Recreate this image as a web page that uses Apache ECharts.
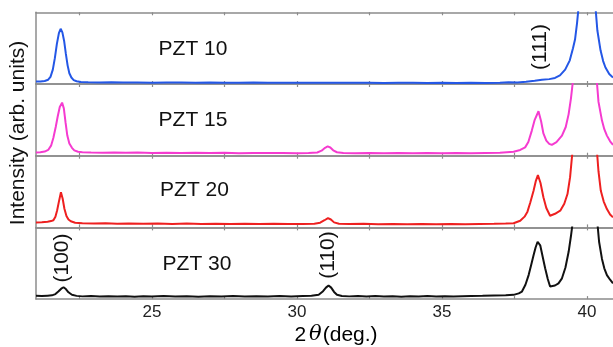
<!DOCTYPE html>
<html>
<head>
<meta charset="utf-8">
<script src="https://cdn.jsdelivr.net/npm/echarts@6/dist/echarts.min.js"></script>
<style>
  html, body { margin: 0; padding: 0; background: #fff; }
  #chart { width: 613px; height: 347px; }
</style>
</head>
<body>
<div id="chart"></div>
<script>
// [2theta, intensity in % of panel height]
const pzt10 = [[21.0,3.4],[21.15,3.6],[21.3,4.2],[21.42,6],[21.5,10],[21.58,20],[21.65,36],[21.72,56],[21.79,71],[21.85,77],[21.91,72],[21.97,60],[22.03,42],[22.09,26],[22.15,15],[22.22,9],[22.3,5.5],[22.4,3.8],[22.55,2.8],[22.8,2.3],[23.2,2.1],[23.6,2.4],[24.0,2.0],[24.5,2.2],[25.0,1.9],[25.5,2.2],[26.0,2.0],[26.5,1.8],[27.0,2.1],[27.5,1.9],[28.0,1.8],[28.5,2.0],[29.0,1.7],[29.5,1.9],[30.0,1.8],[30.5,1.6],[31.0,1.9],[31.5,1.7],[32.0,1.6],[32.5,1.8],[33.0,1.5],[33.5,1.7],[34.0,1.6],[34.5,1.5],[35.0,1.7],[35.5,1.5],[36.0,1.6],[36.5,1.4],[37.0,1.7],[37.3,2.3],[37.6,2.2],[37.9,3.0],[38.2,4.5],[38.45,6],[38.7,6.8],[38.9,8.5],[39.07,12],[39.25,20],[39.41,33],[39.52,50],[39.59,62],[39.66,85],[39.72,110],[39.85,200],[40.0,300],[40.15,200],[40.28,115],[40.36,75],[40.47,47],[40.56,32],[40.64,23],[40.77,14],[40.9,9]];
const pzt15 = [[21.0,4.6],[21.15,4.8],[21.3,5.8],[21.42,8],[21.52,14],[21.6,25],[21.68,40],[21.75,55],[21.82,68],[21.9,74],[21.96,66],[22.02,46],[22.08,28],[22.15,17],[22.24,11],[22.32,7.5],[22.45,5.5],[22.6,4.8],[22.9,4.5],[23.3,4.2],[23.7,4.6],[24.1,4.0],[24.5,4.4],[25.0,3.8],[25.5,4.2],[26.0,3.7],[26.5,4.1],[27.0,3.6],[27.5,4.0],[28.0,3.5],[28.5,3.9],[29.0,3.6],[29.5,3.8],[30.0,3.4],[30.4,3.9],[30.7,4.5],[30.85,7],[30.97,11],[31.06,13],[31.15,11.5],[31.25,7.5],[31.38,4.8],[31.6,3.8],[32.0,3.5],[32.5,3.9],[33.0,3.4],[33.5,3.7],[34.0,3.3],[34.5,3.6],[35.0,3.4],[35.5,3.7],[36.0,3.5],[36.5,3.9],[37.0,4.2],[37.47,5.6],[37.7,8],[37.87,11.6],[37.98,19],[38.1,35],[38.2,50],[38.33,62],[38.42,48],[38.5,31],[38.6,21],[38.7,16.5],[38.79,15],[38.95,19],[39.14,28],[39.27,40],[39.37,58],[39.45,80],[39.52,105],[39.7,200],[39.95,300],[40.2,200],[40.32,115],[40.4,75],[40.52,49],[40.6,37],[40.69,28],[40.8,20],[40.9,15]];
const pzt20 = [[21.0,7],[21.2,7.2],[21.4,7.8],[21.52,8.8],[21.6,10],[21.67,15],[21.73,24],[21.79,36],[21.86,49],[21.92,40],[21.98,26],[22.05,16],[22.12,11],[22.2,8.5],[22.35,6.5],[22.6,5.8],[23.0,5.4],[23.4,5.9],[23.8,5.2],[24.2,5.6],[24.7,5.0],[25.2,5.5],[25.7,4.9],[26.2,5.3],[26.7,4.8],[27.2,5.2],[27.7,4.7],[28.2,5.1],[28.7,4.6],[29.2,5.0],[29.7,4.6],[30.2,4.9],[30.6,5.0],[30.8,6.5],[30.95,10],[31.07,13],[31.17,11],[31.28,7],[31.45,5],[31.8,4.7],[32.3,5.0],[32.8,4.5],[33.3,4.8],[33.8,4.4],[34.3,4.7],[34.8,4.3],[35.3,4.6],[35.8,4.5],[36.3,4.9],[36.8,5.0],[37.2,5.3],[37.47,5.8],[37.7,9.3],[37.85,15],[37.95,22],[38.05,35],[38.16,51],[38.24,65],[38.31,73],[38.4,62],[38.5,42],[38.6,27],[38.73,16.3],[38.9,19],[39.08,23.3],[39.22,33],[39.33,46.5],[39.42,70],[39.5,105],[39.7,200],[39.95,300],[40.2,200],[40.32,120],[40.4,78],[40.48,51],[40.58,36],[40.69,25.6],[40.8,18],[40.9,14]];
const pzt30 = [[21.0,4.6],[21.2,4.2],[21.4,4.8],[21.55,5.2],[21.67,7],[21.77,10.5],[21.87,14.5],[21.95,16.5],[22.03,14],[22.12,9.5],[22.24,6],[22.4,4.5],[22.6,3.8],[22.9,4.2],[23.2,3.6],[23.5,4.1],[23.8,3.5],[24.1,4.0],[24.4,3.4],[24.7,3.9],[25.0,3.6],[25.4,4.2],[25.8,3.5],[26.2,4.0],[26.6,3.4],[27.0,4.1],[27.4,3.6],[27.8,4.3],[28.2,3.5],[28.6,4.0],[29.0,3.6],[29.4,4.2],[29.8,3.7],[30.2,4.3],[30.5,4.6],[30.75,6],[30.9,11],[31.0,16],[31.09,19],[31.18,16],[31.28,10],[31.38,6],[31.55,4.4],[31.8,3.8],[32.1,4.3],[32.4,3.6],[32.7,4.2],[33.0,3.5],[33.3,4.0],[33.6,3.4],[33.9,4.1],[34.2,3.6],[34.5,4.2],[34.8,3.7],[35.1,4.1],[35.4,3.6],[35.7,4.0],[36.0,4.3],[36.4,4.6],[36.8,5.0],[37.2,5.4],[37.47,5.9],[37.65,8],[37.76,10.5],[37.88,20],[37.99,33.5],[38.08,48],[38.16,61],[38.23,72],[38.3,80],[38.39,75],[38.48,58],[38.56,43],[38.65,28],[38.73,17.6],[38.9,19],[39.02,22],[39.14,29],[39.26,44],[39.37,66],[39.45,88],[39.52,110],[39.7,200],[39.95,300],[40.2,200],[40.32,125],[40.42,80],[40.52,56],[40.6,43],[40.69,33.5],[40.8,27],[40.9,22]];

const panelNames = ['PZT 10', 'PZT 15', 'PZT 20', 'PZT 30'];
const panelColors = ['#2457e6', '#f53bd0', '#ee2020', '#111111'];
const tickValues = [22.5, 25, 27.5, 30, 32.5, 35, 37.5, 40];
const labelValues = [25, 30, 35, 40];
const peakLabels = ['(111)', '(100)', '(110)'];

const allData = [pzt10, pzt15, pzt20, pzt30];
const FONT = '"Liberation Sans", Arial, sans-serif';
const AXIS = '#8c8c8c';
const tops = [12.3, 84, 155.7, 227.4];
const H = 71.7;

const grids = [], xAxes = [], yAxes = [], series = [];
tops.forEach((t, i) => {
  grids.push({ left: 36, right: 0, top: t, height: H });
  const last = i === 3;
  // bottom axis
  xAxes.push({
    type: 'value', gridIndex: i, min: 21, max: 40.9, position: 'bottom',
    axisLine: { show: true, lineStyle: { color: AXIS, width: 1.5 } },
    axisTick: { show: true, inside: true, length: 3, customValues: tickValues, lineStyle: { color: AXIS, width: 1.2 } },
    axisLabel: { show: last, customValues: labelValues, margin: 5, fontSize: 17, color: '#222', fontFamily: FONT },
    splitLine: { show: false }
  });
  // top axis
  xAxes.push({
    type: 'value', gridIndex: i, min: 21, max: 40.9, position: 'top',
    axisLine: { show: true, lineStyle: { color: AXIS, width: 1.5 } },
    axisTick: { show: true, inside: true, length: 3, customValues: tickValues, lineStyle: { color: AXIS, width: 1.2 } },
    axisLabel: { show: false },
    splitLine: { show: false }
  });
  yAxes.push({
    type: 'value', gridIndex: i, min: 0, max: 100,
    axisLine: { show: true, lineStyle: { color: AXIS, width: 1.5 } },
    axisTick: { show: false }, axisLabel: { show: false }, splitLine: { show: false }
  });
  series.push({
    type: 'line', xAxisIndex: i * 2, yAxisIndex: i, data: allData[i],
    showSymbol: false, clip: true, silent: true,
    lineStyle: { color: panelColors[i], width: 2 }
  });
});

const textStyle = (size) => ({ font: size + 'px ' + FONT, fill: '#111', textAlign: 'center', textVerticalAlign: 'middle' });
const nameY = [49, 120, 190, 264.7];
const nameX = [193, 193, 194.5, 197];
const graphic = panelNames.map((n, i) => ({
  type: 'text', x: nameX[i], y: nameY[i], style: Object.assign({ text: n }, textStyle(21))
}));
const peakPos = [[540, 47], [62, 258], [328, 255]];
peakLabels.forEach((p, i) => {
  graphic.push({ type: 'text', x: peakPos[i][0], y: peakPos[i][1], rotation: Math.PI / 2,
    style: Object.assign({ text: p }, textStyle(21)) });
});
graphic.push({ type: 'text', x: 18.5, y: 133, rotation: Math.PI / 2,
  style: Object.assign({ text: 'Intensity (arb. units)' }, textStyle(21)) });
graphic.push({ type: 'text', x: 336, y: 335,
  style: {
    text: '{n|2}{t|θ}{n|(deg.)}', textAlign: 'center', textVerticalAlign: 'middle',
    rich: {
      n: { fontSize: 21, fontFamily: FONT, color: '#111' },
      t: { fontSize: 21, fontFamily: '"DejaVu Serif", serif', fontStyle: 'italic', color: '#111', padding: [0, 1, 0, 3] }
    }
  } });

const chart = echarts.init(document.getElementById('chart'), null, { renderer: 'canvas' });
chart.setOption({
  animation: false,
  grid: grids, xAxis: xAxes, yAxis: yAxes, series: series, graphic: graphic
});
</script>
</body>
</html>
